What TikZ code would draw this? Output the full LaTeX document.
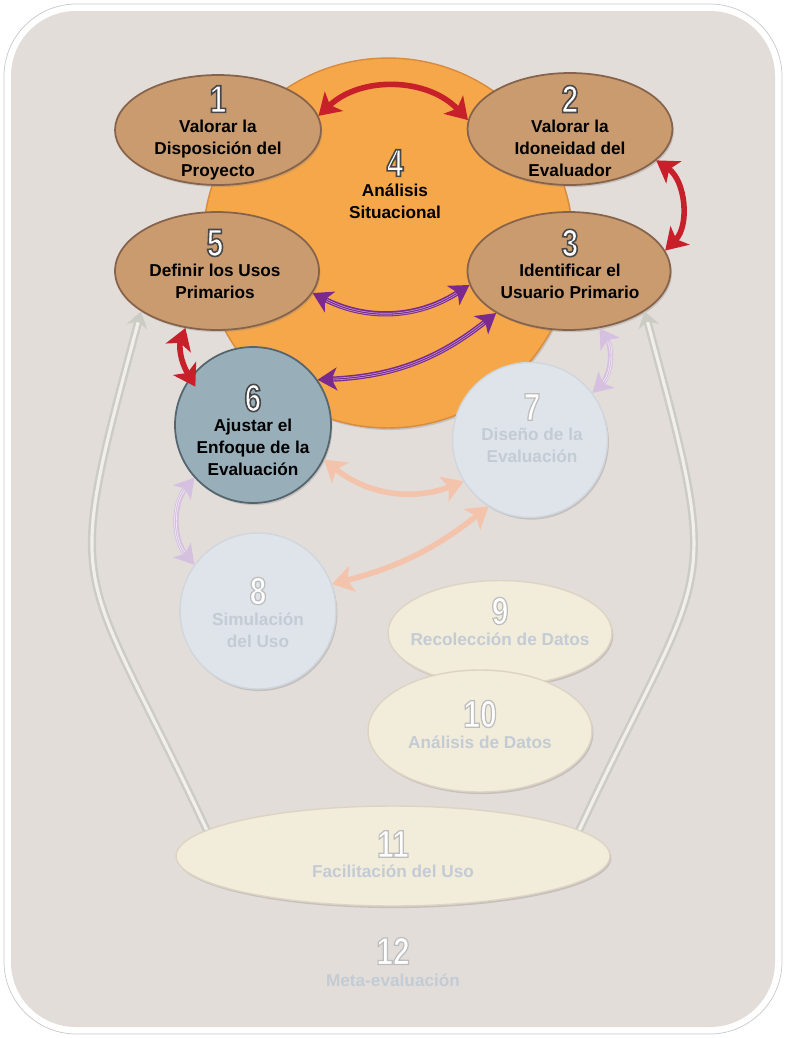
\documentclass[tikz,border=0pt]{standalone}
\usepackage{fontspec}
\setmainfont{Liberation Sans}
\newfontfamily\numfont[FakeStretch=0.78]{Liberation Sans}
\usetikzlibrary{arrows.meta,shapes.geometric,shadows,positioning}

% Define colors
\definecolor{panelgrey}{HTML}{E3DDDA}
\definecolor{frameline}{HTML}{C9C9C9}
\definecolor{sitorange}{HTML}{F6A74A}
\definecolor{sitedge}{HTML}{D98A3A}
\definecolor{stepbrown}{HTML}{C99B6F}
\definecolor{brownedge}{HTML}{86634A}
\definecolor{focusblue}{HTML}{98AFBA}
\definecolor{focusedge}{HTML}{55656E}
\definecolor{paleblue}{HTML}{DEE4EA}
\definecolor{paleedge}{HTML}{CFD6DC}
\definecolor{cream}{HTML}{F2ECDB}
\definecolor{creamedge}{HTML}{DCD4C3}
\definecolor{redarrow}{HTML}{C8202B}
\definecolor{purplearrow}{HTML}{7A2A8E}
\definecolor{purplestripe}{HTML}{C79ACB}
\definecolor{fadepurple}{HTML}{D6C0E0}
\definecolor{fadesalmon}{HTML}{F3C4AB}
\definecolor{greyarc}{HTML}{CBCCC3}
\definecolor{fadetext}{HTML}{C3CBD4}

% Outlined numbers (fill white, stroke grey)
\newcommand{\stepnum}[1]{\special{pdf:literal direct 0.28 0.28 0.28 RG 0.9 w 2 Tr}#1\special{pdf:literal direct 0 Tr}}
\newcommand{\fadenum}[1]{\special{pdf:literal direct 0.74 0.74 0.74 RG 0.7 w 2 Tr}#1\special{pdf:literal direct 0 Tr}}

\tikzset{
  softshadow/.style={drop shadow={shadow xshift=0.8pt, shadow yshift=-1.2pt, opacity=0.3}},
  stepshape/.style={ellipse, inner sep=0pt, fill=stepbrown, draw=brownedge, line width=1pt, softshadow},
  focusshape/.style={circle, inner sep=0pt, fill=focusblue, draw=focusedge, line width=1pt, softshadow},
  paleshape/.style={circle, inner sep=0pt, fill=paleblue, draw=paleedge, line width=0.8pt, softshadow},
  creamshape/.style={ellipse, inner sep=0pt, fill=cream, draw=creamedge, line width=0.8pt, softshadow},
  numtxt/.style={inner sep=0pt, text=white, font=\numfont\bfseries\fontsize{22}{22}\selectfont},
  lbltxt/.style={inner sep=0pt, align=center, text=black, font=\bfseries\fontsize{9.8}{12.5}\selectfont},
  fadelbl/.style={lbltxt, text=fadetext},
  redlink/.style={draw=redarrow, line width=3.2pt,
    {Stealth[length=12pt,width=15pt,inset=3pt]}-{Stealth[length=12pt,width=15pt,inset=3pt]}},
  purplelink/.style={draw=purplearrow, line width=3pt,
    {Stealth[length=11pt,width=13pt,inset=3pt]}-{Stealth[length=11pt,width=13pt,inset=3pt]},
    postaction={draw=purplestripe, double=purplearrow, line width=0.4pt, double distance=0.6pt,
      shorten <=9pt, shorten >=9pt, arrows=-}},
  fadepurplelink/.style={draw=fadepurple, line width=3pt,
    {Stealth[length=11pt,width=13pt,inset=3pt]}-{Stealth[length=11pt,width=13pt,inset=3pt]},
    postaction={draw=white!70!fadepurple, double=fadepurple, line width=0.4pt, double distance=0.6pt,
      shorten <=9pt, shorten >=9pt, arrows=-}},
  salmonlink/.style={draw=fadesalmon, line width=3.2pt,
    {Stealth[length=12pt,width=15pt,inset=3pt]}-{Stealth[length=12pt,width=15pt,inset=3pt]}},
  greylink/.style={draw=greyarc, double=panelgrey!50!white, line width=1.4pt, double distance=1.8pt,
    -{Stealth[length=9pt,width=12pt]}}
}

\begin{document}
\begin{tikzpicture}[x=0.02cm, y=0.02cm]
  \useasboundingbox (0,0) rectangle (786,-1038);

  % Panel
  \draw[frameline, fill=white, rounded corners=1.45cm] (4,-4) rectangle (782,-1034);
  \fill[panelgrey, rounded corners=1.3cm] (11,-11) rectangle (775,-1027);

  % Situational analysis circle
  \node[circle, inner sep=0pt, minimum size=7.4cm, fill=sitorange, draw=sitedge, line width=0.8pt, softshadow] (analisis) at (388,-243) {};

  % Step shapes
  \node[stepshape, minimum width=4.12cm, minimum height=2.2cm] (disp) at (218,-130) {};
  \node[stepshape, minimum width=4.1cm, minimum height=2.24cm] (idon) at (570,-129) {};
  \node[stepshape, minimum width=4.08cm, minimum height=2.36cm] (usos) at (217,-271) {};
  \node[stepshape, minimum width=4.06cm, minimum height=2.36cm] (usuario) at (569,-271) {};
  \node[focusshape, minimum size=3.12cm] (enfoque) at (253,-425) {};
  \node[paleshape, minimum size=3.1cm] (diseno) at (530,-440) {};
  \node[paleshape, minimum size=3.12cm] (simul) at (258,-611) {};
  \node[creamshape, minimum width=4.48cm, minimum height=2.1cm] (recol) at (500,-633) {};
  \node[creamshape, minimum width=4.48cm, minimum height=2.44cm] (datos) at (480,-731) {};
  \node[creamshape, minimum width=8.68cm, minimum height=2.0cm] (facil) at (393,-856) {};

  % Numbers and labels
  \node[numtxt] (n1) at (218,-99) {\stepnum{1}};
  \node[lbltxt, below=4pt of n1] (t1) {Valorar la\\Disposición del\\Proyecto};
  \node[numtxt] (n2) at (570,-99) {\stepnum{2}};
  \node[lbltxt, below=4pt of n2] (t2) {Valorar la\\Idoneidad del\\Evaluador};
  \node[numtxt] (n4) at (395,-163) {\stepnum{4}};
  \node[lbltxt, below=4pt of n4] (t4) {Análisis\\Situacional};
  \node[numtxt] (n5) at (215,-243) {\stepnum{5}};
  \node[lbltxt, below=4pt of n5] (t5) {Definir los Usos\\Primarios};
  \node[numtxt] (n3) at (570,-243) {\stepnum{3}};
  \node[lbltxt, below=4pt of n3] (t3) {Identificar el\\Usuario Primario};
  \node[numtxt] (n6) at (253,-398) {\stepnum{6}};
  \node[lbltxt, below=4pt of n6] (t6) {Ajustar el\\Enfoque de la\\Evaluación};
  \node[numtxt] (n7) at (532,-407) {\fadenum{7}};
  \node[fadelbl, below=4pt of n7] (t7) {Diseño de la\\Evaluación};
  \node[numtxt] (n8) at (258,-591) {\fadenum{8}};
  \node[fadelbl, below=4pt of n8] (t8) {Simulación\\del Uso};
  \node[numtxt] (n9) at (500,-611) {\fadenum{9}};
  \node[fadelbl, below=4pt of n9] (t9) {Recolección de Datos};
  \node[numtxt] (n10) at (480,-714) {\fadenum{10}};
  \node[fadelbl, below=4pt of n10] (t10) {Análisis de Datos};
  \node[numtxt] (n11) at (393,-844) {\fadenum{11}};
  \node[fadelbl, below=4pt of n11] (t11) {Facilitación del Uso};
  \node[numtxt] (n12) at (393,-951) {\fadenum{12}};
  \node[fadelbl, below=5pt of n12] (t12) {Meta-evaluación};

  % Red links
  \draw[redlink] (disp.8) to[bend left=45] (idon.175);
  \draw[redlink] (idon.-20) to[bend left=50] (usuario.12);
  \draw[redlink, shorten >=-6pt] (usos.241) to[bend right=25] (enfoque.143);

  % Purple links
  \draw[purplelink] (usos.-13) to[bend right=30] (usuario.188);
  \draw[purplelink] (usuario.210) to[bend left=18] (enfoque.35);
  \draw[fadepurplelink] (usuario.-62) to[bend left=40] (diseno.37);
  \draw[fadepurplelink] (enfoque.222) to[bend right=40] (simul.144);

  % Faded salmon links
  \draw[salmonlink] (enfoque.-26) to[bend right=30] (diseno.212);
  \draw[salmonlink] (diseno.238) to[bend left=12] (simul.20);

  % Feedback arcs
  \draw[greylink] (facil.172) to[out=115, in=-105, looseness=1.5] (usos.208);
  \draw[greylink] (facil.8) to[out=65, in=-75, looseness=1.5] (usuario.-28);
\end{tikzpicture}
\end{document}
